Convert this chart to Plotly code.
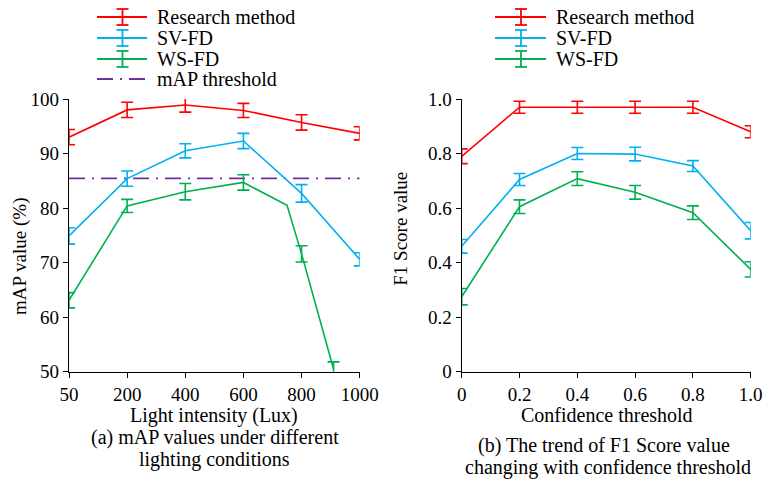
import plotly.graph_objects as go

W, H = 766, 479
FONT = "Liberation Serif"

# ---- data: left chart (mAP vs light intensity) ----
lux_labels = ["50", "200", "400", "600", "800", "1000"]
lux_pos = [0, 1, 2, 3, 4, 5]
red_map = [93.0, 98.0, 98.9, 97.9, 95.7, 93.7]
red_map_err = [1.4, 1.4, 1.3, 1.3, 1.4, 1.2]
blue_map = [74.9, 85.4, 90.5, 92.3, 82.7, 70.6]
blue_map_err = [1.5, 1.4, 1.3, 1.4, 1.6, 1.2]
green_map_x = [0, 1, 2, 3, 3.75, 4, 4.55]
green_map = [63.1, 80.4, 83.0, 84.7, 80.5, 71.6, 50.5]
green_err_x = [0, 1, 2, 3, 4, 4.55]
green_err_y = [63.1, 80.4, 83.0, 84.7, 71.6, 50.5]
green_err = [1.4, 1.2, 1.5, 1.4, 1.5, 1.3]
map_threshold = 85.45

# ---- data: right chart (F1 vs confidence threshold) ----
conf = [0, 0.2, 0.4, 0.6, 0.8, 1.0]
conf_labels = ["0", "0.2", "0.4", "0.6", "0.8", "1.0"]
red_f1 = [0.79, 0.97, 0.97, 0.97, 0.97, 0.88]
red_f1_err = [0.027, 0.022, 0.022, 0.022, 0.022, 0.022]
blue_f1 = [0.46, 0.705, 0.80, 0.798, 0.754, 0.517]
blue_f1_err = [0.025, 0.022, 0.022, 0.025, 0.02, 0.03]
green_f1 = [0.275, 0.605, 0.708, 0.658, 0.583, 0.375]
green_f1_err = [0.03, 0.025, 0.025, 0.025, 0.025, 0.028]

RED, BLUE, GREEN, PURPLE = "#FF0000", "#00B0F0", "#00B050", "#7030A0"
LW = 1.6
EW = 6

fig = go.Figure()


def add(x, y, err, color, xa, ya, mode="lines"):
    fig.add_trace(go.Scatter(
        x=x, y=y, mode=mode, xaxis=xa, yaxis=ya, showlegend=False,
        line=dict(color=color, width=LW), cliponaxis=False,
        marker=dict(size=1, color=color, opacity=0),
        error_y=None if err is None else dict(type="data", array=err, visible=True,
                                              color=color, thickness=1.6, width=EW)))


# left
fig.add_trace(go.Scatter(x=[0, 5], y=[map_threshold, map_threshold], mode="lines",
                         xaxis="x", yaxis="y", showlegend=False,
                         line=dict(color=PURPLE, width=1.6, dash="16px,7px,2px,7px")))
add(lux_pos, red_map, red_map_err, RED, "x", "y")
add(lux_pos, blue_map, blue_map_err, BLUE, "x", "y")
add(green_map_x, green_map, None, GREEN, "x", "y")
add(green_err_x, green_err_y, green_err, GREEN, "x", "y", mode="markers")

# right
add(conf, red_f1, red_f1_err, RED, "x2", "y2")
add(conf, blue_f1, blue_f1_err, BLUE, "x2", "y2")
add(conf, green_f1, green_f1_err, GREEN, "x2", "y2")


def px(x):
    return x / W


def py(y):
    return 1 - y / H


ax_common = dict(showline=True, linecolor="black", linewidth=1.4, ticks="outside",
                 ticklen=5, tickwidth=1.4, tickcolor="black", showgrid=False,
                 zeroline=False, mirror=False, automargin=False,
                 tickfont=dict(family=FONT, size=19, color="black"))

fig.update_layout(
    width=W, height=H, margin=dict(l=0, r=0, t=0, b=0, autoexpand=False),
    paper_bgcolor="white", plot_bgcolor="white",
    font=dict(family=FONT, size=19, color="black"),
    xaxis=dict(domain=[px(69), px(359.7)], range=[0, 5], tickvals=lux_pos,
               ticktext=lux_labels, anchor="y", **ax_common),
    yaxis=dict(domain=[py(371.7), py(99)], range=[50, 100], tickvals=[50, 60, 70, 80, 90, 100],
               anchor="x", **ax_common),
    xaxis2=dict(domain=[px(461.7), px(750.7)], range=[0, 1], tickvals=conf,
                ticktext=conf_labels, anchor="y2", **ax_common),
    yaxis2=dict(domain=[py(371.7), py(99)], range=[0, 1], tickvals=[0, 0.2, 0.4, 0.6, 0.8, 1.0],
                ticktext=["0", "0.2", "0.4", "0.6", "0.8", "1.0"], anchor="x2", **ax_common),
    showlegend=False,
)

annos = []


def text(t, x, y, angle=0, size=20):
    annos.append(dict(text=t, x=px(x), y=py(y), xref="paper", yref="paper",
                      showarrow=False, xanchor="center", yanchor="middle",
                      textangle=angle, font=dict(family=FONT, size=size, color="black")))


text("mAP value (%)", 20, 256, angle=-90, size=19)
text("F1 Score value", 400.7, 229, angle=-90, size=19)
text("Light intensity (Lux)", 214, 415)
text("(a) mAP values under different", 215, 437)
text("lighting conditions", 214, 459)
text("Confidence threshold", 606.7, 415)
text("(b) The trend of F1 Score value", 604, 445)
text("changing with confidence threshold", 608, 467)

# legends (drawn as glyphs + text)
shapes = []


def legend_entry(x0, x1, xc, y, color, label, dash=None, ibeam=True):
    shapes.append(dict(type="line", xref="paper", yref="paper", x0=px(x0), x1=px(x1),
                       y0=py(y), y1=py(y), line=dict(color=color, width=1.8, dash=dash or "solid")))
    if ibeam:
        shapes.append(dict(type="line", xref="paper", yref="paper", x0=px(xc), x1=px(xc),
                           y0=py(y - 8), y1=py(y + 8), line=dict(color=color, width=1.8)))
        for yy in (y - 8, y + 8):
            shapes.append(dict(type="line", xref="paper", yref="paper", x0=px(xc - 6), x1=px(xc + 6),
                               y0=py(yy), y1=py(yy), line=dict(color=color, width=1.8)))
    annos.append(dict(text=label, x=px(x1 + 8), y=py(y), xref="paper", yref="paper",
                      showarrow=False, xanchor="left", yanchor="middle",
                      font=dict(family=FONT, size=20, color="black")))


legend_entry(97, 147, 122.5, 17, RED, "Research method")
legend_entry(97, 147, 122.5, 38, BLUE, "SV-FD")
legend_entry(97, 147, 122.5, 59, GREEN, "WS-FD")
legend_entry(97, 147, 122.5, 79, PURPLE, "mAP threshold", dash="16px,7px,2px,7px", ibeam=False)

legend_entry(495, 546, 521, 17, RED, "Research method")
legend_entry(495, 546, 521, 38, BLUE, "SV-FD")
legend_entry(495, 546, 521, 59, GREEN, "WS-FD")

fig.update_layout(annotations=annos, shapes=shapes)
fig.write_html("out.html", config={"displayModeBar": False},
               post_script="document.body.style.margin='0px';document.body.style.overflow='hidden';")
